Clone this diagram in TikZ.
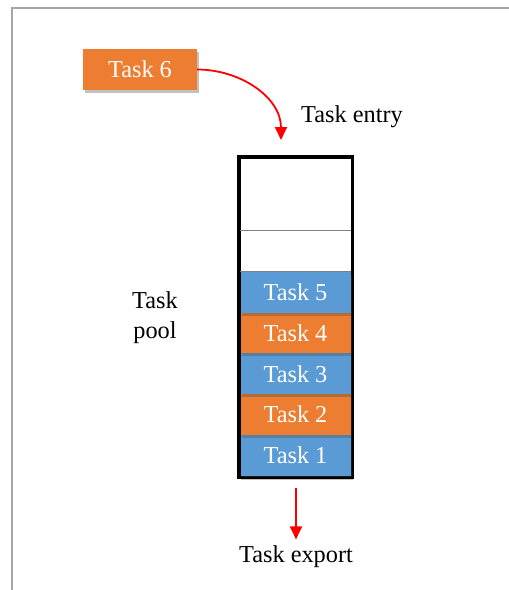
\documentclass[tikz,border=0pt]{standalone}
\usepackage{fontspec}
\setmainfont{Liberation Serif}
\usetikzlibrary{shadows}
\usetikzlibrary{arrows.meta}
\definecolor{taskorange}{HTML}{ED7D31}
\definecolor{taskblue}{HTML}{5B9BD5}
\tikzset{
    cellshadow/.style = {drop shadow={shadow xshift=1.5pt,shadow yshift=-3pt,opacity=0.35,fill=black!70}},
    cellb/.style = {rectangle, fill=taskblue, text=white, minimum width=110, minimum height=40.7, inner sep=0, cellshadow},
    cello/.style = {rectangle, fill=taskorange, text=white, minimum width=110, minimum height=40.7, inner sep=0, cellshadow},
    slot/.style = {rectangle, minimum width=110, inner sep=0},
    pool/.style = {rectangle, draw=black, line width=2.5, fill=white, minimum width=112.5, minimum height=319.5, cellshadow},
    sepline/.style = {gray, line width=0.8},
    flow/.style = {-{Triangle[width=12pt,length=13pt]}, line width=1.8, red},
    frameline/.style = {gray!70, line width=1.4},
    lbl/.style = {align=center, text=black}
}

\begin{document}
\begin{tikzpicture}[x=1pt,y=-1pt,every node/.style={font=\fontsize{24.3}{30}\selectfont}]
\useasboundingbox (0,0) rectangle (509,590);
\draw[frameline] (12,590) -- (12,8) -- (509,8);
%
\node[pool] at (295.5, 317.0) (pool) {};
\node[slot, minimum height=72.5] at (295.5, 194.75) (s7) {};
\node[slot, minimum height=41.0] at (295.5, 251.5) (s6) {};
\node[cellb] at (295.5, 455.15) (t1) {Task 1};
\node[cello] at (295.5, 414.45) (t2) {Task 2};
\node[cellb] at (295.5, 373.75) (t3) {Task 3};
\node[cello] at (295.5, 333.05) (t4) {Task 4};
\node[cellb] at (295.5, 292.35) (t5) {Task 5};
\draw[sepline] (s6.north west) -- (s6.north east);
\draw[sepline] (t5.north west) -- (t5.north east);
\draw[line width=2.5] (pool.north west) rectangle (pool.south east);
%
\node[cello, minimum width=114, minimum height=41] at (140.0, 69.5) (t6) {Task 6};
\node[lbl] at (352.0, 117.0) (entry) {Task entry};
\node[lbl] at (155.0, 318.0) (poollbl) {Task\\pool};
\node[lbl] at (296.0, 557.0) (export) {Task export};
\coordinate (drop) at (281.0, 140.0);
\coordinate (out) at (296.0, 488.0);
%
\draw[flow] (t6.east) to[out=0,in=90] (drop);
\draw[flow, shorten >=3pt] (out) -- (export);

\end{tikzpicture}
\end{document}
